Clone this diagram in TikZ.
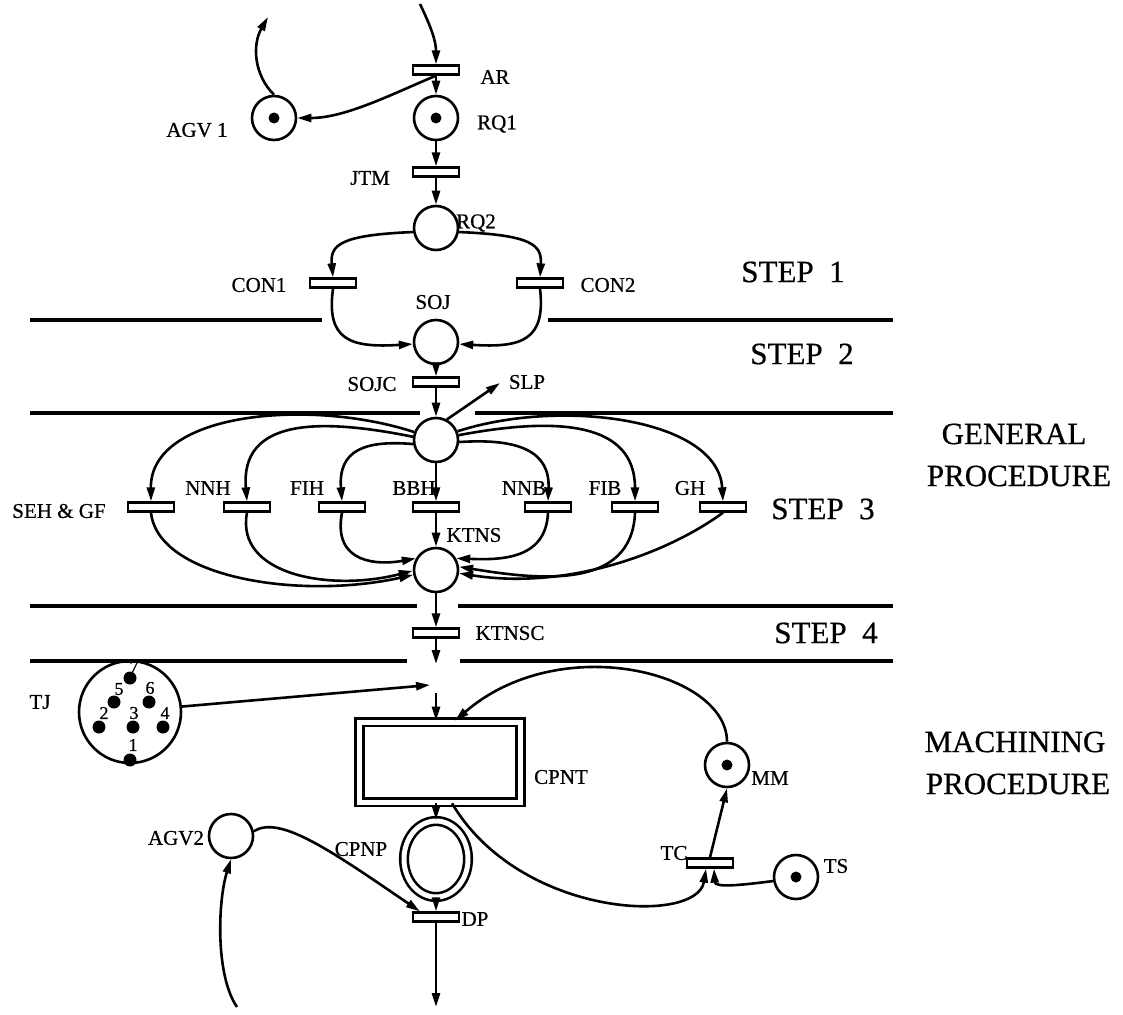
\documentclass[tikz,border=0pt]{standalone}
\usepackage{fontspec}
\setmainfont{Liberation Serif}
\usetikzlibrary{arrows.meta,shapes.geometric,calc}
\begin{document}
\begin{tikzpicture}[x=1pt,y=-1pt,line width=2.6pt,
  place/.style={circle,draw,minimum size=44pt,inner sep=0pt},
  trans/.style={rectangle,draw,line width=2.3pt,minimum width=46pt,minimum height=9pt,inner sep=0pt},
  tok/.style={circle,fill,inner sep=0pt,minimum size=11pt},
  tjdot/.style={circle,fill,inner sep=0pt,minimum size=13pt},
  lab/.style={font=\fontsize{21}{23}\selectfont\addfontfeatures{FakeBold=0.6},inner sep=0pt},
  big/.style={font=\fontsize{31}{33}\selectfont\addfontfeatures{FakeBold=0.6},inner sep=0pt},
  num/.style={font=\fontsize{18}{19}\selectfont\addfontfeatures{FakeBold=0.8},inner sep=0pt},
  arr/.style={-{Triangle[length=14pt,width=8pt]}},
  divider/.style={line width=3.4pt}]
\useasboundingbox (0,0) rectangle (1123,1014);

% ---------- top ----------
\node[trans] (AR) at (436,70) {};
\node[lab] (lAR) at (495,77) {AR};
\node[place] (RQ1) at (436,118) {};
\node[tok] (tRQ1) at (RQ1) {};
\node[lab] (lRQ1) at (497,124) {RQ1};
\node[place] (AGV1) at (274,118) {};
\node[tok] (tAGV1) at (AGV1) {};
\node[lab] (lAGV1) at (197,130) {AGV 1};
\coordinate (inAR) at (420,4);
\coordinate (outAGV1) at (268,17);
\draw[arr] (inAR) .. controls (430,25) and (436,40) .. (AR.north);
\draw[arr] (AR.south) .. controls (390,95) and (345,118) .. (AGV1.east);
\draw[arr] (AR.south) -- (RQ1.north);
\draw[arr] (AGV1.north) .. controls (254,75) and (252,45) .. (outAGV1);

\node[trans] (JTM) at (436,172) {};
\node[lab] (lJTM) at (370,178) {JTM};
\draw[arr] (RQ1.south) -- (JTM.north);
\node[place] (RQ2) at (436,228) {};
\draw[arr] (JTM.south) -- (RQ2.north);
\node[lab] (lRQ2) at (476,223) {RQ2};

% ---------- step 1 ----------
\node[trans] (CON1) at (333,283) {};
\node[trans] (CON2) at (540,283) {};
\node[lab] (lCON1) at (259,285) {CON1};
\node[lab] (lCON2) at (608,285) {CON2};
\draw[arr] (RQ2.190) .. controls (340,235) and (330,245) .. (CON1.north);
\draw[arr] (RQ2.-10) .. controls (532,235) and (542,245) .. (CON2.north);
\node[place] (SOJ) at (436,342) {};
\node[lab] (lSOJ) at (433,302) {SOJ};
\draw[arr] (CON1.south) .. controls (326,340) and (350,348) .. (SOJ.185);
\draw[arr] (CON2.south) .. controls (546,340) and (522,348) .. (SOJ.-5);
\draw[divider] (30,320) -- (322,320);
\draw[divider] (548,320) -- (893,320);
\node[big] (st1) at (793,272) {STEP\ \ 1};
\node[big] (st2) at (802,354) {STEP\ \ 2};

% ---------- step 2 ----------
\node[trans] (SOJC) at (436,382) {};
\node[lab] (lSOJC) at (372,384) {SOJC};
\draw[arr] (SOJ.south) -- (SOJC.north);
\node[place] (P3) at (436,440) {};
\draw[arr] (SOJC.south) -- (P3.north);
\coordinate (SLPend) at (500,383);
\draw[arr] (P3.62) -- (SLPend);
\node[lab] (lSLP) at (527,382) {SLP};
\draw[divider] (30,413) -- (420,413);
\draw[divider] (475,413) -- (893,413);
\node[big] (gen1) at (1014,434) {GENERAL};
\node[big] (gen2) at (1019,476) {PROCEDURE};

% ---------- step 3 ----------
\node[trans] (SEH) at (151,507) {};
\node[trans] (NNH) at (247,507) {};
\node[trans] (FIH) at (342,507) {};
\node[trans] (BBH) at (436,507) {};
\node[trans] (NNB) at (548,507) {};
\node[trans] (FIB) at (635,507) {};
\node[trans] (GH) at (723,507) {};
\node[lab] (lSEH) at (59,511) {SEH \& GF};
\node[lab] (lNNH) at (208,488) {NNH};
\node[lab] (lFIH) at (307,488) {FIH};
\node[lab] (lBBH) at (414,488) {BBH};
\node[lab] (lNNB) at (524,488) {NNB};
\node[lab] (lFIB) at (605,488) {FIB};
\node[lab] (lGH) at (690,488) {GH};
\node[big] (st3) at (823,509) {STEP\ \ 3};
\node[place] (KTNS) at (436,570) {};
\node[lab] (lKTNS) at (474,535) {KTNS};

\draw[arr] (P3.160) .. controls (310,398) and (150,412) .. (SEH.north);
\draw[arr] (P3.172) .. controls (320,418) and (240,418) .. (NNH.north);
\draw[arr] (P3.190) .. controls (365,440) and (338,450) .. (FIH.north);
\draw[arr] (P3.south) -- (BBH.north);
\draw[arr] (P3.-5) .. controls (520,438) and (550,452) .. (NNB.north);
\draw[arr] (P3.12) .. controls (560,416) and (635,423) .. (FIB.north);
\draw[arr] (P3.22) .. controls (560,398) and (718,418) .. (GH.north);

\draw[arr] (SEH.south) .. controls (158,578) and (300,600) .. (KTNS.192);
\draw[arr] (NNH.south) .. controls (235,575) and (330,592) .. (KTNS.182);
\draw[arr] (FIH.south) .. controls (332,565) and (380,565) .. (KTNS.150);
\draw[arr] (BBH.south) -- (KTNS.north);
\draw[arr] (NNB.south) .. controls (546,560) and (500,560) .. (KTNS.30);
\draw[arr] (FIB.south) .. controls (632,590) and (540,580) .. (KTNS.8);
\draw[arr] (GH.south) .. controls (665,555) and (565,590) .. (KTNS.-8);

% ---------- step 4 ----------
\draw[divider] (30,606) -- (417,606);
\draw[divider] (458,606) -- (893,606);
\node[trans] (KTNSC) at (436,633) {};
\node[lab] (lKTNSC) at (510,633) {KTNSC};
\node[big] (st4) at (826,633) {STEP\ \ 4};
\draw[arr] (KTNS.south) -- (KTNSC.north);
\coordinate (kend) at (436,664);
\draw[arr] (KTNSC.south) -- (kend);
\draw[divider] (30,661) -- (407,661);
\draw[divider] (460,661) -- (893,661);

% ---------- machining ----------
\node[big] (mac1) at (1015,742) {MACHINING};
\node[big] (mac2) at (1018,784) {PROCEDURE};

\node[circle,draw,minimum size=102pt,inner sep=0pt] (TJ) at (130,712) {};
\node[lab] (lTJ) at (40,702) {TJ};
\node[tjdot] (d7) at ($(TJ)+(0,-34)$) {};
\node[tjdot] (d5) at ($(TJ)+(-16,-10)$) {};
\node[tjdot] (d6) at ($(TJ)+(19,-10)$) {};
\node[tjdot] (d2) at ($(TJ)+(-31,15)$) {};
\node[tjdot] (d3) at ($(TJ)+(3,15)$) {};
\node[tjdot] (d4) at ($(TJ)+(33,15)$) {};
\node[tjdot] (d1) at ($(TJ)+(0,48)$) {};
\node[num] (n7) at ($(TJ)+(4,-45)$) {7};
\node[num] (n5) at ($(TJ)+(-11,-23)$) {5};
\node[num] (n6) at ($(TJ)+(20,-24)$) {6};
\node[num] (n2) at ($(TJ)+(-26,1)$) {2};
\node[num] (n3) at ($(TJ)+(4,1)$) {3};
\node[num] (n4) at ($(TJ)+(35,1)$) {4};
\node[num] (n1) at ($(TJ)+(3,33)$) {1};
\coordinate (tjend) at (430,685);
\draw[arr] (TJ.6) -- (tjend);

\node[rectangle,draw,double,double distance=5pt,minimum width=161pt,minimum height=80pt,inner sep=0pt] (CPNT) at (440,762) {};
\node[lab] (lCPNT) at (561,777) {CPNT};
\coordinate (ctop) at (436,693);
\draw[arr] (ctop) -- (ctop |- CPNT.north);

\node[place] (MM) at (727,765) {};
\node[tok] (tMM) at (MM) {};
\node[lab] (lMM) at (770,778) {MM};
\draw[arr] (MM.north) .. controls (727,672) and (560,630) .. ($(CPNT.north)+(15,0)$);

\node[trans] (TC) at (710,863) {};
\node[lab] (lTC) at (674,853) {TC};
\draw[arr] (TC.north) -- (MM.south);
\node[place] (TS) at (796,877) {};
\node[tok] (tTS) at (TS) {};
\node[lab] (lTS) at (836,866) {TS};
\draw[arr] (TS.190) .. controls (742,885) and (715,888) .. ($(TC.south)+(4,0)$);
\draw[arr] ($(CPNT.south)+(12,0)$) .. controls (520,918) and (697,925) .. ($(TC.south)+(-4,0)$);

\node[ellipse,draw,double,double distance=5pt,minimum width=64pt,minimum height=76pt,inner sep=0pt] (CPNP) at (436,859) {};
\node[lab] (lCPNP) at (361,849) {CPNP};
\draw[arr] (CPNP.north |- CPNT.south) -- (CPNP.north);
\node[trans] (DP) at (436,917) {};
\node[lab] (lDP) at (475,919) {DP};
\draw[arr] (CPNP.south) -- (DP.north);
\coordinate (dpout) at (436,1007);
\draw[arr] (DP.south) -- (dpout);

\node[place] (AGV2) at (231,836) {};
\node[lab] (lAGV2) at (176,838) {AGV2};
\draw[arr] (AGV2.12) .. controls (280,815) and (330,850) .. ($(DP.north west)+(8,0)$);
\coordinate (agvin) at (237,1007);
\draw[arr] (agvin) .. controls (215,975) and (218,900) .. (AGV2.south);
\end{tikzpicture}
\end{document}
